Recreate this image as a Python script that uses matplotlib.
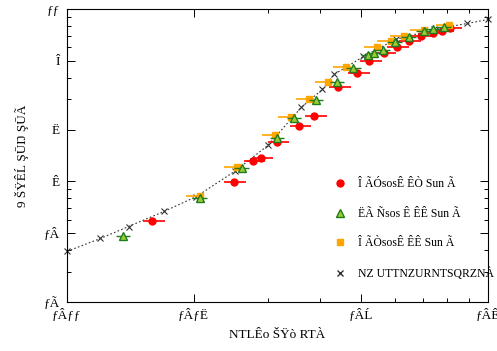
import matplotlib
matplotlib.use("Agg")
import matplotlib.pyplot as plt
import numpy as np
from matplotlib.ticker import FixedLocator, NullFormatter
from matplotlib.font_manager import FontProperties

plt.rcParams['font.family'] = ['Liberation Serif', 'DejaVu Serif']

# ---- data ----
red_x = [0.01595, 0.0249, 0.02764, 0.02888, 0.03154, 0.03558, 0.03866, 0.04409,
         0.04895, 0.05229, 0.05647, 0.06065, 0.06479, 0.06921, 0.07393, 0.07768, 0.08115]
red_y = [0.586, 0.987, 1.306, 1.359, 1.683, 2.084, 2.381, 3.508,
         4.228, 4.963, 5.594, 6.061, 6.480, 6.928, 7.211, 7.406, 7.709]

green_x = [0.0136, 0.02065, 0.02602, 0.03154, 0.03463, 0.03909, 0.04385, 0.04789,
           0.0520, 0.05374, 0.05616, 0.05998, 0.06479, 0.07037, 0.07393, 0.07852]
green_y = [0.480, 0.797, 1.190, 1.775, 2.319, 2.949, 3.749, 4.520,
           5.375, 5.594, 5.823, 6.394, 6.836, 7.406, 7.607, 7.916]

orange_x = [0.02065, 0.02531, 0.03119, 0.03406, 0.0376, 0.04174, 0.04608,
            0.05464, 0.05868, 0.06302, 0.07037, 0.0807]
orange_y = [0.8185, 1.206, 1.848, 2.350, 2.988, 3.749, 4.581,
            5.981, 6.480, 6.928, 7.506, 8.130]

theory_x = [0.0100, 0.0120, 0.0140, 0.0170, 0.0203, 0.0250, 0.0300, 0.0360,
            0.0404, 0.0431, 0.0506, 0.0603, 0.0743, 0.0891, 0.1000]
theory_y = [0.393, 0.467, 0.548, 0.670, 0.818, 1.143, 1.617, 2.685,
            3.415, 4.172, 5.304, 6.656, 7.607, 8.240, 8.694]

# relative horizontal errors (minus, plus)
red_err = (0.05, 0.07)
green_err = (0.04, 0.04)
orange_err = (0.07, 0.025)

legend_labels = ["Î ÃÓsosÊ ÊÒ Sun Ã", "ËÃ Ñsos Ê ÊÊ Sun Ã",
                 "Î ÃÒsosÊ ÊÊ Sun Ã", "NZ UTTNZURNTSQRZNÀ"]
xlabel = "NTLÊo ŠŸò RTÀ"
ylabel = "9 ŠŸÊĹ ŞŪŊ ŞŪÃ"

x_ticks = [0.01, 0.02, 0.05, 0.1]
x_ticklabels = ["ƒÂƒƒ", "ƒÂƒË", "ƒÂĹ", "ƒÂÊ"]
y_ticks = [0.2, 0.5, 1, 2, 5, 10]
y_ticklabels = ["ƒÃ", "ƒÂ", "Ê", "Ë", "Î", "ƒƒ"]

cond = FontProperties(family=['Liberation Serif', 'DejaVu Serif'], size=8.5)
tickfont = FontProperties(family=['Liberation Serif', 'DejaVu Serif'], size=9.5)
labfont = FontProperties(family=['Liberation Serif', 'DejaVu Serif'], size=9.5)

fig = plt.figure(figsize=(4.97, 3.51), dpi=100)
ax = fig.add_axes([67/497, 49/351, 421/497, 293/351])
ax.set_xscale('log')
ax.set_yscale('log')
ax.set_xlim(0.01, 0.1)
ax.set_ylim(0.2, 10)


def xerr(xs, e):
    xs = np.asarray(xs)
    return np.vstack([xs * e[0], xs * e[1]])


ax.plot(theory_x, theory_y, linestyle=(0, (1.5, 2)), color='#333333', lw=0.8,
        marker='x', ms=4, mew=0.8, mec='#333333', clip_on=False, zorder=2)
ax.errorbar(red_x, red_y, xerr=xerr(red_x, red_err), fmt='o', color='red',
            ms=5, elinewidth=1.2, capsize=0, zorder=3)
ax.errorbar(green_x, green_y, xerr=xerr(green_x, green_err), fmt='^', mfc='#9acd32',
            mec='#1e7b1e', ecolor='#1e7b1e', ms=5.5, mew=1, elinewidth=1.0, capsize=0, zorder=4)
ax.errorbar(orange_x, orange_y, xerr=xerr(orange_x, orange_err), fmt='s', color='#ffa500',
            ms=5, elinewidth=1.2, capsize=0, zorder=3)

# legend (gnuplot style: markers only)
h1 = ax.plot([], [], 'o', color='red', ms=5)[0]
h2 = ax.plot([], [], '^', mfc='#9acd32', mec='#1e7b1e', ms=5.5)[0]
h3 = ax.plot([], [], 's', color='#ffa500', ms=5)[0]
h4 = ax.plot([], [], 'x', color='#333333', ms=4)[0]
leg = ax.legend([h1, h2, h3, h4], legend_labels, loc='center left',
                bbox_to_anchor=(0.61, 0.249), frameon=False, prop=cond,
                handlelength=1.0, handletextpad=1.0, labelspacing=1.5,
                borderaxespad=0.5)

ax.xaxis.set_major_locator(FixedLocator(x_ticks))
ax.set_xticklabels(x_ticklabels, fontproperties=tickfont)
ax.xaxis.set_minor_locator(FixedLocator([0.03, 0.04, 0.06, 0.07, 0.08, 0.09]))
ax.xaxis.set_minor_formatter(NullFormatter())
ax.yaxis.set_major_locator(FixedLocator(y_ticks))
ax.set_yticklabels(y_ticklabels, fontproperties=tickfont)
ax.yaxis.set_minor_locator(FixedLocator([0.3, 0.4, 0.6, 0.7, 0.8, 0.9, 3, 4, 6, 7, 8, 9]))
ax.yaxis.set_minor_formatter(NullFormatter())
ax.tick_params(which='both', direction='in', top=True, right=True, width=0.7)
ax.tick_params(which='major', length=6, pad=5)
ax.tick_params(which='minor', length=3)
for s in ax.spines.values():
    s.set_linewidth(0.8)

ax.set_xlabel(xlabel, fontproperties=labfont, labelpad=5)
ax.set_ylabel(ylabel, fontproperties=labfont, labelpad=11)

fig.savefig('out.png', dpi=100)
